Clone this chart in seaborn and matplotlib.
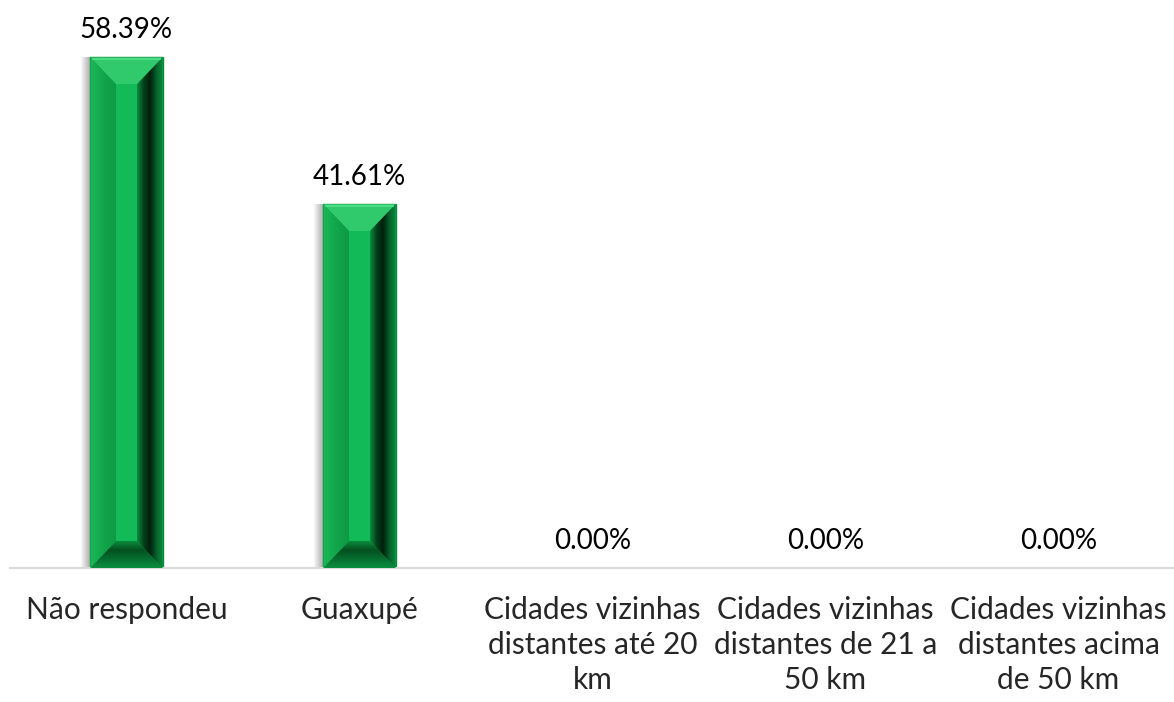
import numpy as np
import pandas as pd
import matplotlib
matplotlib.use("Agg")
import matplotlib.pyplot as plt
import seaborn as sns
from matplotlib.patches import Polygon, Rectangle
from matplotlib.colors import LinearSegmentedColormap

# dados
categorias = ["Não respondeu", "Guaxupé",
              "Cidades vizinhas\ndistantes até 20\nkm",
              "Cidades vizinhas\ndistantes de 21 a\n50 km",
              "Cidades vizinhas\ndistantes acima\nde 50 km"]
percentuais = [58.39, 41.61, 0.00, 0.00, 0.00]
rotulos = [f"{v:.2f}%" for v in percentuais]

sns.set_style("white")
plt.rcParams['font.family'] = ['Lato', 'DejaVu Sans']

fig = plt.figure(figsize=(11.74, 7.02), dpi=100)
ax = fig.add_axes([10/1174, 134/702, 1165/1174, 551/702])

df = pd.DataFrame({"categoria": categorias, "pct": percentuais})
sns.barplot(data=df, x="categoria", y="pct", color="#10b152", width=0.31,
            saturation=1, ax=ax, zorder=2)

ymax = 63
ax.set_ylim(0, ymax)
ax.set_xlim(-0.5, 4.5)

# efeito chanfrado nas barras
px_y = ymax / 551
px_x = 5 / 1165
cm_dir = LinearSegmentedColormap.from_list("dir", ["#0d8a3f", "#03401a", "#011f0c", "#06602b", "#0c8a3e"])
cm_esq = LinearSegmentedColormap.from_list("esq", ["#1cb757", "#12a64b", "#0e9a45"])
cm_inf = LinearSegmentedColormap.from_list("inf", ["#0c8f40", "#076e30", "#04501f", "#0a8a3c"])
for p in ax.patches:
    x0, w, h = p.get_x(), p.get_width(), p.get_height()
    if h <= 0:
        continue
    p.set_edgecolor("#0a8a3c")
    p.set_linewidth(1)
    dx = w * 26 / 73
    dy = 27 * px_y
    xi0, xi1, yi0, yi1 = x0 + dx, x0 + w - dx, dy, h - dy
    # sombra
    for k in range(1, 10):
        ax.add_patch(Rectangle((x0 - k * px_x, -0.3), w, h + 0.3, color="black",
                               alpha=0.035, lw=0, zorder=1))
    topo = Polygon([(x0, h), (x0 + w, h), (xi1, yi1), (xi0, yi1)], closed=True,
                   fc="#30c96b", ec="none", zorder=3)
    ax.add_patch(topo)
    ax.plot([x0 + 3 * px_x, x0 + w - 3 * px_x], [h - 2 * px_y] * 2, color="#4ddc86", lw=1.5, zorder=4)
    faces = [
        ([(x0, 0), (xi0, yi0), (xi0, yi1), (x0, h)], cm_esq, [x0, xi0, 0, h], True),
        ([(x0 + w, 0), (x0 + w, h), (xi1, yi1), (xi1, yi0)], cm_dir, [xi1, x0 + w, 0, h], True),
        ([(x0, 0), (x0 + w, 0), (xi1, yi0), (xi0, yi0)], cm_inf, [x0, x0 + w, 0, yi0], False),
    ]
    for verts, cmap, ext, horiz in faces:
        poly = Polygon(verts, closed=True, fc="none", ec="none", zorder=3)
        ax.add_patch(poly)
        grad = np.linspace(0, 1, 64)
        grad = grad[None, :] if horiz else grad[:, None]
        im = ax.imshow(grad, extent=ext, aspect="auto", cmap=cmap, origin="lower",
                       zorder=3, interpolation="bilinear")
        im.set_clip_path(poly)
    ax.add_patch(Rectangle((xi0, yi0), xi1 - xi0, yi1 - yi0, fc="#12bb58", ec="none", zorder=4))

ax.set_ylim(0, ymax)
ax.set_xlim(-0.5, 4.5)

ax.bar_label(ax.containers[0], labels=rotulos, padding=10, fontsize=20, color="#000000")

sns.despine(ax=ax, left=True)
ax.spines["bottom"].set_color("#d9d9d9")
ax.spines["bottom"].set_linewidth(1.5)
ax.set_yticks([])
ax.set_xlabel("")
ax.set_ylabel("")
ax.tick_params(axis="x", length=0, pad=20, labelsize=21.5)
for t in ax.get_xticklabels():
    t.set_linespacing(1.32)
    t.set_verticalalignment("top")

fig.savefig("out.png", dpi=100)
